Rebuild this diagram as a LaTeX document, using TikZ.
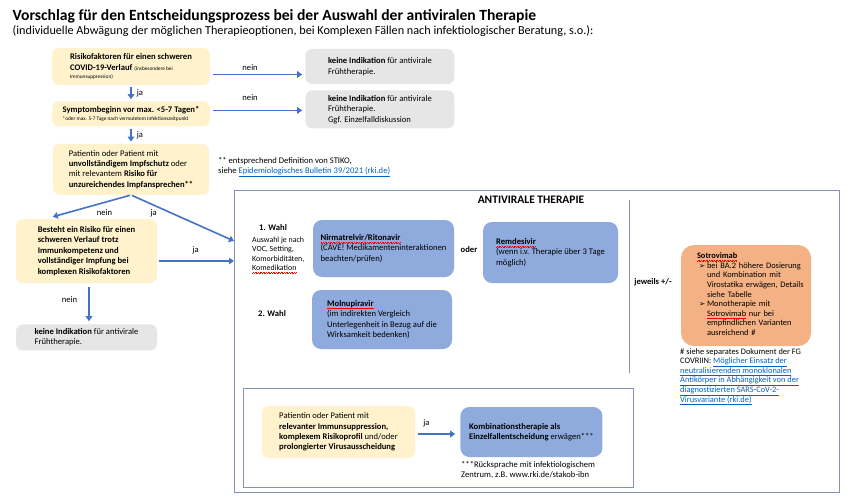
\documentclass[tikz,border=0pt]{standalone}
\usepackage{fontspec}
\setmainfont{Carlito}
\newfontfamily\pfeilfont{DejaVu Sans}
\usetikzlibrary{positioning,arrows.meta,calc}

\definecolor{ygelb}{HTML}{FFF2CC}
\definecolor{ggrau}{HTML}{E7E6E6}
\definecolor{bblau}{HTML}{8FAADC}
\definecolor{oorange}{HTML}{F4B183}
\definecolor{pfeilblau}{HTML}{4472C4}
\definecolor{rahmen}{HTML}{8494B4}
\definecolor{linkblau}{HTML}{0563C1}

\newcommand\bxfont{\fontsize{8.6}{10.4}\selectfont}
\newcommand\sofont{\fontsize{8.4}{9.6}\selectfont}
\newcommand\smfont{\fontsize{5.3}{6.2}\selectfont}
\newcommand\rkilink[1]{\textcolor{linkblau}{\underline{#1}}}
\newcommand\redwave[1]{\setbox0\hbox{#1}\leavevmode\rlap{\color{red}\xleaders\hbox{\raisebox{-2.5pt}{\rule{0.8pt}{0.35pt}}\raisebox{-2.05pt}{\rule{0.8pt}{0.35pt}}}\hskip\wd0}\box0\relax}
\hfuzz=200pt

\tikzstyle{ybox}=[rectangle, rounded corners=7pt, fill=ygelb, inner sep=0pt,
                  align=left, font=\bxfont]
\tikzstyle{gbox}=[rectangle, rounded corners=7pt, fill=ggrau, inner sep=0pt,
                  align=left, font=\bxfont]
\tikzstyle{bbox}=[rectangle, rounded corners=9pt, fill=bblau, inner sep=0pt,
                  align=left, font=\bxfont]
\tikzstyle{obox}=[rectangle, rounded corners=13pt, fill=oorange, inner ysep=0pt,
                  align=left, font=\sofont]
\tikzstyle{frbox}=[rectangle, draw=rahmen, line width=0.8pt, inner sep=0pt]
\tikzstyle{pline}=[draw=rahmen, line width=0.8pt]
\tikzstyle{parrow}=[-{Triangle[length=5pt,width=6.5pt]}, draw=pfeilblau, line width=1.6pt]
\tikzstyle{lbl}=[font=\bxfont, inner sep=1pt]
\tikzstyle{note}=[font=\bxfont, align=left, inner sep=0pt]

\begin{document}
\begin{tikzpicture}[x=1pt, y=-1pt, node distance=0mm]
\fill[white] (0,0) rectangle (850,503);
\useasboundingbox (0,0) rectangle (850,503);

\node (TITLE) [anchor=west, inner sep=0pt, font=\fontsize{15.6}{18}\selectfont\bfseries]
 at (12.5,16) {Vorschlag für den Entscheidungsprozess bei der Auswahl der antiviralen Therapie};
\node (SUBTITLE) [anchor=west, inner sep=0pt, font=\fontsize{12.2}{14}\selectfont]
 at (12.5,31.5) {(individuelle Abwägung der möglichen Therapieoptionen, bei Komplexen Fällen nach infektiologischer Beratung, s.o.):};

\node (RISK) [ybox, minimum width=158pt, minimum height=37pt] at (131,66.5)
 {\textbf{Risikofaktoren für einen schweren}\\\textbf{COVID-19-Verlauf} {\smfont (insbesondere bei}\\[-2.5pt]{\smfont Immunsuppression)}};

\node (SYMP) [ybox, minimum width=158pt, minimum height=25pt, below=16pt of RISK]
 {\textbf{Symptombeginn vor max. <5-7 Tagen*}\\[-2.5pt]{\smfont *oder max. 5-7 Tage nach vermutetem Infektionszeitpunkt}};

\node (IMPF) [ybox, minimum width=156pt, minimum height=51pt, below=17pt of SYMP]
 {Patientin oder Patient mit\\\textbf{unvollständigem Impfschutz} oder\\mit relevantem \textbf{Risiko für}\\\textbf{unzureichendes Impfansprechen**}};

\node (NOIND1) [gbox, minimum width=149pt, minimum height=35pt, right=95pt of RISK]
 {\textbf{keine Indikation} für antivirale\\Frühtherapie.};

\node (NOIND2) [gbox, minimum width=149pt, minimum height=38pt, below=6pt of NOIND1]
 {\textbf{keine Indikation} für antivirale\\Frühtherapie.\\Ggf. Einzelfalldiskussion};

\node (RISKIM) [ybox, minimum width=141pt, minimum height=64pt] at (86.5,251)
 {\textbf{Besteht ein Risiko für einen}\\\textbf{schweren Verlauf trotz}\\\textbf{Immunkompetenz und}\\\textbf{vollständiger Impfung bei}\\\textbf{komplexen Risikofaktoren}};

\node (NOIND3) [gbox, minimum width=141pt, minimum height=26pt, below=41pt of RISKIM]
 {\textbf{keine Indikation} für antivirale\\Frühtherapie.};

\node (STIKO) [note, anchor=west] at (218,167)
 {** entsprechend Definition von STIKO,\\siehe \rkilink{Epidemiologisches Bulletin 39/2021 (rki.de)}};

\node (AVT) [frbox, minimum width=605pt, minimum height=302pt, anchor=north west] at (234,190) {};
\node (AVTTITLE) [font=\fontsize{11.5}{13}\selectfont\bfseries, inner sep=0pt] at (531,200) {ANTIVIRALE THERAPIE};
\coordinate (AVTIN1) at ($(AVT.north west)+(0,51)$);
\coordinate (AVTIN2) at ($(AVT.north west)+(0,71)$);

\node (WAHL1) [lbl, font=\bxfont\bfseries] at (273,228) {1. Wahl};
\node (AUSW) [note, anchor=west, font=\fontsize{7.9}{9.4}\selectfont] at (252,255)
 {Auswahl je nach\\VOC, Setting,\\Komorbiditäten,\\\redwave{Komedikation}};

\node (NIRM) [bbox, minimum width=141pt, minimum height=57pt] at (383.5,248.5)
 {\textbf{\redwave{Nirmatrelvir/Ritonavir}}\\(CAVE! Medikamenteninteraktionen\\beachten/prüfen)};
\node (ODER) [lbl, font=\bxfont\bfseries] at (469,250) {oder};
\node (REMD) [bbox, minimum width=135pt, minimum height=61pt] at (550.5,252.5)
 {\textbf{\redwave{Remdesivir}}\\(wenn i.v. Therapie über 3 Tage\\möglich)};

\node (WAHL2) [lbl, font=\bxfont\bfseries] at (272,314) {2. Wahl};
\node (MOLN) [bbox, minimum width=140pt, minimum height=59pt] at (382,319.5)
 {\textbf{\redwave{Molnupiravir}}\\(im indirekten Vergleich\\Unterlegenheit in Bezug auf die\\Wirksamkeit bedenken)};

\draw[pline] (629,200) -- (629,373);
\node (JEWEILS) [lbl, font=\bxfont\bfseries] at (653,282) {jeweils +/-};

\node (SOTRO) [obox, text width=98pt, inner xsep=16pt, minimum height=101pt] at (746,295.5)
 {\textbf{\redwave{Sotrovimab}}\\
 \begin{tabular}[t]{@{\hspace{2pt}}p{8pt}@{}l@{}}
 {\pfeilfont\fontsize{7.5}{8}\selectfont ➢} & bei BA.2 höhere Dosierung\\
  & und Kombination mit\\
  & Virostatika erwägen, Details\\
  & siehe Tabelle\\
 {\pfeilfont\fontsize{7.5}{8}\selectfont ➢} & Monotherapie mit\\
  & \redwave{Sotrovimab} nur bei\\
  & empfindlichen Varianten\\
  & ausreichend \#
 \end{tabular}};

\node (HASH) [note, anchor=north west, font=\sofont] at (680,348)
 {\# siehe separates Dokument der FG\\COVRIIN: \rkilink{Möglicher Einsatz der}\\\rkilink{neutralisierenden monoklonalen}\\\rkilink{Antikörper in Abhängigkeit von der}\\\rkilink{diagnostizierten SARS-CoV-2-}\\\rkilink{Virusvariante (rki.de)}};

\node (KOMBFR) [frbox, minimum width=390pt, minimum height=99pt, anchor=north west] at (243,388) {};
\node (PATIM) [ybox, minimum width=153pt, minimum height=52pt] at (338.5,432)
 {Patientin oder Patient mit\\\textbf{relevanter Immunsuppression,}\\\textbf{komplexem Risikoprofil} und/oder\\\textbf{prolongierter Virusausscheidung}};
\node (KOMB) [bbox, minimum width=142pt, minimum height=50pt, right=45pt of PATIM]
 {\textbf{Kombinationstherapie als}\\\textbf{Einzelfallentscheidung} erwägen***};
\node (STAKOB) [note, anchor=north west] at (461,461)
 {***Rücksprache mit infektiologischem\\Zentrum, z.B. www.rki.de/stakob-ibn};

\draw[parrow, shorten <=3pt, shorten >=3pt] ([yshift=-8pt]RISK.east) -- ([yshift=-8pt]RISK.east -| NOIND1.west)
 node (LNEIN1) [lbl, pos=0.42, above=2pt] {nein};
\draw[parrow, shorten <=3pt, shorten >=3pt] ([yshift=3.5pt]SYMP.east) -- ([yshift=3.5pt]SYMP.east -| NOIND2.west)
 node (LNEIN2) [lbl, pos=0.42, above=8pt] {nein};
\draw[parrow, shorten <=2pt, shorten >=2pt] (RISK.south) -- (SYMP.north)
 node (LJA1) [lbl, midway, right=4pt] {ja};
\draw[parrow, shorten <=2pt, shorten >=2pt] (SYMP.south) -- (IMPF.north)
 node (LJA2) [lbl, midway, right=4pt] {ja};
\draw[parrow, shorten <=1pt] (IMPF.south) -- ($(RISKIM.north west)+(37,-2)$)
 node (LNEIN3) [lbl, pos=0.34, below=5pt] {nein};
\draw[parrow, shorten <=1pt] (IMPF.south) -- (AVTIN1)
 node (LJA3) [lbl, pos=0.22, below=3pt] {ja};
\draw[parrow, shorten <=2pt] ([yshift=-10pt]RISKIM.east) -- (AVTIN2)
 node (LJA4) [lbl, midway, above=5pt] {ja};
\draw[parrow, shorten <=4pt, shorten >=3pt] ([xshift=2.5pt]RISKIM.south) -- ([xshift=2.5pt]RISKIM.south |- NOIND3.north)
 node (LNEIN4) [lbl, pos=0.4, left=10pt] {nein};
\draw[parrow, shorten <=3pt, shorten >=5pt] ([yshift=-2pt]PATIM.east) -- ([yshift=-2pt]PATIM.east -| KOMB.west)
 node (LJA5) [lbl, pos=0.25, above=5pt] {ja};

\end{tikzpicture}
\end{document}
